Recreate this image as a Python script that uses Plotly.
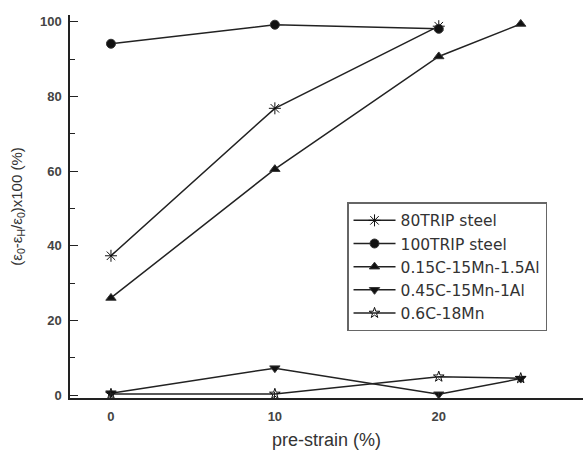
import plotly.graph_objects as go

x_a = [0, 10, 20]
trip80 = [37.3, 76.8, 98.8]
trip100 = [94.1, 99.2, 98.1]
x_b = [0, 10, 20, 25]
c015 = [26.0, 60.5, 90.7, 99.4]
c045 = [0.5, 7.2, 0.2, 4.4]
c06 = [0.3, 0.3, 4.9, 4.5]

names = ["80TRIP steel", "100TRIP steel", "0.15C-15Mn-1.5Al", "0.45C-15Mn-1Al", "0.6C-18Mn"]
xs = [x_a, x_a, x_b, x_b, x_b]
ys = [trip80, trip100, c015, c045, c06]
symbols = ["asterisk-open", "circle", "triangle-up", "triangle-down", "star-open"]
sizes = [10, 9, 9, 9, 8]

fig = go.Figure()
for n, xx, yy, s, sz in zip(names, xs, ys, symbols, sizes):
    fig.add_trace(go.Scatter(
        x=xx, y=yy, name=n, mode="lines+markers",
        line=dict(color="#222222", width=1.5),
        marker=dict(symbol=s, size=sz, color="#111111",
                    line=dict(color="#333333", width=1)),
    ))

fig.update_layout(
    width=583, height=450,
    margin=dict(l=70, r=0, t=15, b=52),
    paper_bgcolor="white", plot_bgcolor="white",
    font=dict(family="Liberation Sans, Arial, sans-serif", color="#333333"),
    showlegend=True,
    legend=dict(x=0.54, y=0.511, xanchor="left", yanchor="top",
                bordercolor="#666666", borderwidth=1.5,
                font=dict(size=15.5, color="#333333", family="DejaVu Sans"),
                tracegroupgap=0, itemwidth=42),
)
fig.update_xaxes(
    range=[-2.5, 28.8], tickvals=[0, 10, 20], ticks="inside", ticklen=6,
    tickcolor="#222222", showline=True, linecolor="#222222", linewidth=1.5,
    showgrid=False, zeroline=False, ticklabelstandoff=6, automargin=False,
    tickfont=dict(size=13, color="#444444", weight="bold"),
    title=dict(text="pre-strain (%)", font=dict(size=18, color="#333333"), standoff=26),
)
fig.update_yaxes(
    range=[-0.8, 101.8], tickvals=[0, 20, 40, 60, 80, 100], ticks="inside", ticklen=8,
    tickcolor="#222222", showline=True, linecolor="#222222", linewidth=1.5,
    minor=dict(tickvals=[10, 30, 50, 70, 90], ticks="inside", ticklen=5, tickcolor="#222222"),
    showgrid=False, zeroline=False, ticklabelstandoff=4, automargin=False,
    tickfont=dict(size=13, color="#444444", weight="bold"),
    title=dict(text="(ε<sub>0</sub>-ε<sub>H</sub>/ε<sub>0</sub>)x100 (%)",
               font=dict(size=15, color="#333333"), standoff=14),
)
fig.write_html("out.html")
